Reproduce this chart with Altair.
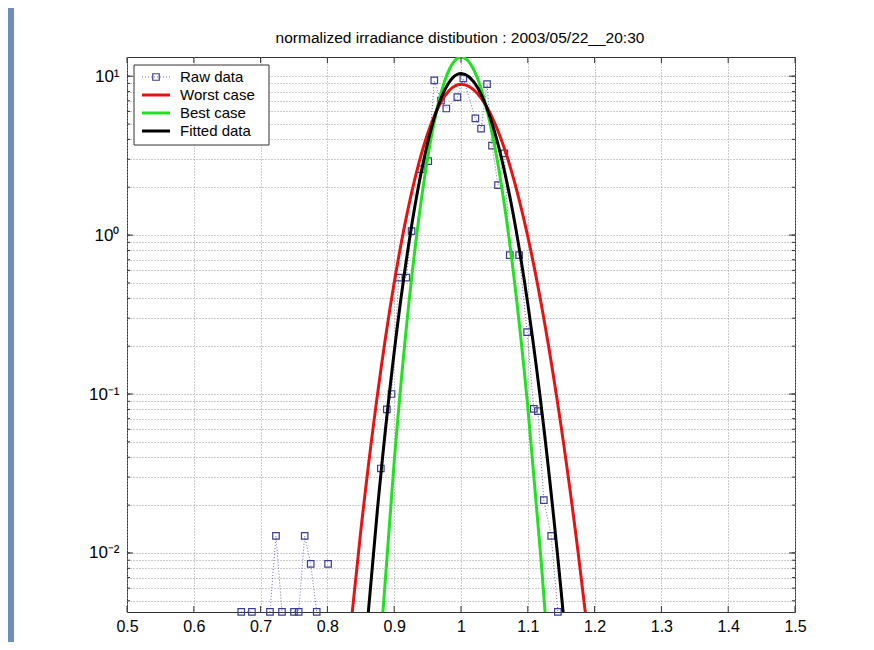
import altair as alt
import pandas as pd

FONT = "Liberation Sans"
TITLE = "normalized irradiance distibution : 2003/05/22__20:30"

# ---- data ----
raw_x = [0.671, 0.687, 0.714, 0.723, 0.732, 0.750, 0.757, 0.766, 0.775, 0.784, 0.801,
         0.880, 0.889, 0.896, 0.907, 0.918, 0.926, 0.940, 0.951, 0.960, 0.970, 0.978,
         0.9945, 1.0035, 1.0215, 1.030, 1.039, 1.0464, 1.0554, 1.065, 1.073, 1.087,
         1.099, 1.109, 1.115, 1.124, 1.135, 1.145]
raw_y = [0.00426, 0.00426, 0.00426, 0.0128, 0.00426, 0.00426, 0.00426, 0.0128, 0.00853, 0.00426, 0.00853,
         0.034, 0.080, 0.100, 0.54, 0.54, 1.06, 2.6, 2.92, 9.4, 7.03, 6.26,
         7.38, 9.67, 5.42, 4.67, 8.9, 3.66, 2.06, 3.27, 0.748, 0.748,
         0.245, 0.0806, 0.078, 0.0215, 0.0128, 0.00426]
raw_seg = [0, 0, 1, 1, 1, 2, 2, 2, 2, 2, 3,
           4, 4, 4, 4, 4, 4, 4, 4, 4, 4, 4,
           4, 4, 4, 4, 4, 4, 4, 4, 4, 4,
           4, 4, 4, 4, 4, 4]

worst_x = [0.83, 0.85, 0.875, 0.9, 0.925, 0.95, 0.975, 1.0, 1.025, 1.05, 1.075, 1.1, 1.125, 1.15, 1.175, 1.19]
worst_y = [0.00218, 0.01377, 0.0995, 0.501, 1.765, 4.336, 7.43, 8.9, 7.75, 5.13, 2.573, 0.980, 0.283, 0.0621, 0.01035, 0.00309]

best_x = [0.88, 0.9, 0.92, 0.94, 0.96, 0.98, 1.0, 1.02, 1.04, 1.06, 1.08, 1.1, 1.12, 1.13]
best_y = [0.00284, 0.0375, 0.310, 1.598, 5.166, 10.44, 13.2, 10.78, 5.87, 2.128, 0.514, 0.0829, 0.00891, 0.00251]

fit_x = [0.855, 0.875, 0.9, 0.925, 0.95, 0.975, 1.0, 1.025, 1.05, 1.075, 1.1, 1.125, 1.15, 1.16]
fit_y = [0.00214, 0.01897, 0.1837, 1.074, 3.79, 8.08, 10.4, 8.44, 4.51, 1.590, 0.369, 0.0564, 0.00568, 0.00202]

x_ticks = [0.5, 0.6, 0.7, 0.8, 0.9, 1.0, 1.1, 1.2, 1.3, 1.4, 1.5]
y_decades = [0.01, 0.1, 1, 10]
y_grid = [0.005, 0.006, 0.007, 0.008, 0.009,
          0.01, 0.02, 0.03, 0.04, 0.05, 0.06, 0.07, 0.08, 0.09,
          0.1, 0.2, 0.3, 0.4, 0.5, 0.6, 0.7, 0.8, 0.9,
          1, 2, 3, 4, 5, 6, 7, 8, 9, 10]

legend_names = ["Raw data", "Worst case", "Best case", "Fitted data"]
legend_colors = ["#3c3c96", "#e41414", "#22e022", "#000000"]

W, H = 668, 555
RED, GREEN, BLACK, BLUE = "#e41414", "#22e022", "#000000", "#3c3c96"

# ---- scales / axes ----
xs = alt.Scale(domain=[0.5, 1.5], nice=False, zero=False)
ys = alt.Scale(type="log", domain=[0.00425, 13.2], nice=False)

e = "round(log(datum.value)/LN10)"
label_expr = (f"abs(log(datum.value)/LN10 - {e}) < 0.001 ? "
              f"({e} == 1 ? '10¹' : {e} == 0 ? '10⁰' : {e} == -1 ? '10⁻¹' : {e} == -2 ? '10⁻²' : '') : ''")

xaxis = alt.Axis(values=x_ticks, format="~g", title=None, labelFlush=False,
                 labelPadding=6, labelOverlap=False)
yaxis = alt.Axis(values=y_grid, labelExpr=label_expr, title=None,
                 labelPadding=8, labelOverlap=False)

X = alt.X("x:Q", scale=xs, axis=xaxis)
Y = alt.Y("y:Q", scale=ys, axis=yaxis)

raw_df = pd.DataFrame({"x": raw_x, "y": raw_y, "seg": raw_seg})
worst_df = pd.DataFrame({"x": worst_x, "y": worst_y})
best_df = pd.DataFrame({"x": best_x, "y": best_y})
fit_df = pd.DataFrame({"x": fit_x, "y": fit_y})
xt_df = pd.DataFrame({"x": x_ticks})
yg_df = pd.DataFrame({"y": y_grid})
yd_df = pd.DataFrame({"y": y_decades})
one = pd.DataFrame({"a": [0]})

layers = []

# frame decoration (blue strip on the left)
layers.append(alt.Chart(one).mark_rect(color="#6b8ebb").encode(
    x=alt.value(-119), x2=alt.value(-113), y=alt.value(-49), y2=alt.value(H + 30)))

raw_line = alt.Chart(raw_df).mark_line(strokeDash=[1, 2], strokeWidth=1, color="#6c6cb0", clip=True).encode(
    x=X, y=Y, detail="seg:N")
raw_pts = alt.Chart(raw_df).mark_point(shape="square", filled=False, size=42, strokeWidth=1.2,
                                       color=BLUE, opacity=1).encode(x=X, y=Y)

def curve(df, color):
    return alt.Chart(df).mark_line(color=color, strokeWidth=3, interpolate="monotone", clip=True).encode(x=X, y=Y)

layers += [raw_line, raw_pts, curve(worst_df, RED), curve(best_df, GREEN), curve(fit_df, BLACK)]

# inward ticks (MATLAB style)
tick_col = "#333333"
layers.append(alt.Chart(xt_df).mark_rule(color=tick_col).encode(x=X, y=alt.value(H), y2=alt.value(H - 6)))
layers.append(alt.Chart(xt_df).mark_rule(color=tick_col).encode(x=X, y=alt.value(0), y2=alt.value(6)))
layers.append(alt.Chart(yg_df).mark_rule(color=tick_col).encode(y=Y, x=alt.value(0), x2=alt.value(3)))
layers.append(alt.Chart(yg_df).mark_rule(color=tick_col).encode(y=Y, x=alt.value(W), x2=alt.value(W - 3)))
layers.append(alt.Chart(yd_df).mark_rule(color=tick_col).encode(y=Y, x=alt.value(0), x2=alt.value(6)))
layers.append(alt.Chart(yd_df).mark_rule(color=tick_col).encode(y=Y, x=alt.value(W), x2=alt.value(W - 6)))

# title as a text mark above the plot
layers.append(alt.Chart(one).mark_text(text=TITLE, font=FONT, fontSize=15.5, align="center",
                                       baseline="middle", color="black").encode(
    x=alt.value(W / 2 - 1), y=alt.value(-19)))

# manual legend
layers.append(alt.Chart(one).mark_rect(fill="white", stroke="#333333", strokeWidth=1).encode(
    x=alt.value(7), x2=alt.value(142), y=alt.value(8), y2=alt.value(88)))
for i, (name, col) in enumerate(zip(legend_names, legend_colors)):
    yy = 20 + 18 * i
    if i == 0:
        layers.append(alt.Chart(one).mark_rule(color="#6c6cb0", strokeDash=[1, 2], strokeWidth=1).encode(
            x=alt.value(15), x2=alt.value(43), y=alt.value(yy)))
        layers.append(alt.Chart(one).mark_point(shape="square", filled=False, size=42, strokeWidth=1.2,
                                                color=col, opacity=1).encode(x=alt.value(29), y=alt.value(yy)))
    else:
        layers.append(alt.Chart(one).mark_rule(color=col, strokeWidth=3).encode(
            x=alt.value(15), x2=alt.value(43), y=alt.value(yy)))
    layers.append(alt.Chart(one).mark_text(text=name, font=FONT, fontSize=15, align="left",
                                           baseline="middle", color="black").encode(
        x=alt.value(53), y=alt.value(yy)))

chart = alt.layer(*layers).properties(
    width=W, height=H,
    autosize="none",
    padding={"left": 119, "top": 49, "right": 71, "bottom": 30},
    background="white",
).configure_view(stroke="#333333", strokeWidth=1).configure_axis(
    domain=False, ticks=False, grid=True, gridDash=[1, 2], gridColor="#999999", gridWidth=1,
    labelFont=FONT, labelColor="black"
).configure_axisX(labelFontSize=16).configure_axisY(labelFontSize=17)

chart.save("out.html", embed_options={"renderer": "svg", "actions": False})
